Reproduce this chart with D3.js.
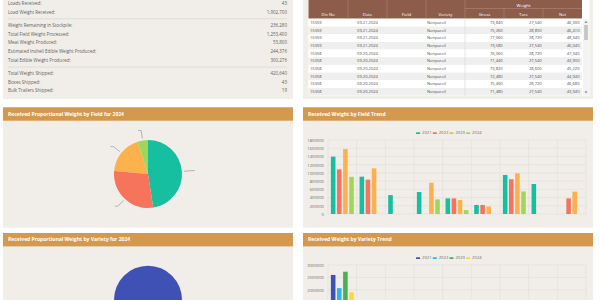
<!DOCTYPE html>
<html>
<head>
<meta charset="utf-8">
<script src="https://cdn.jsdelivr.net/npm/d3@7"></script>
<style>
  html, body { margin: 0; padding: 0; background: #fff; overflow: hidden; }
  svg { display: block; font-family: "Open Sans", "Noto Sans", sans-serif; }
</style>
</head>
<body>
<div id="dash"></div>
<script>
// summary panel
const summaryLabels = ["Loads Received:", "Load Weight Received:",
  "Weight Remaining in Stockpile:", "Total Field Weight Processed:", "Meat Weight Produced:",
  "Estimated Inshell Edible Weight Produced:", "Total Edible Weight Produced:",
  "Total Weight Shipped:", "Boxes Shipped:", "Bulk Trailers Shipped:"];
const summaryValues = [43, 1902700, 236280, 1253400, 53800, 244376, 300276, 420640, 43, 19];
const summaryGroups = [0, 0, 1, 1, 1, 1, 1, 2, 2, 2];

// loads table
const tableDiv = ["15059", "15059", "15059", "15059", "15058", "15058", "15058", "15058", "15058", "15058"];
const tableDate = ["09.21.2024", "09.21.2024", "09.21.2024", "09.21.2024", "09.20.2024",
  "09.20.2024", "09.20.2024", "09.20.2024", "09.20.2024", "09.20.2024"];
const tableVariety = ["Nonpareil", "Nonpareil", "Nonpareil", "Nonpareil", "Nonpareil",
  "Nonpareil", "Nonpareil", "Nonpareil", "Nonpareil", "Nonpareil"];
const tableGross = [73840, 75260, 77060, 73580, 76060, 71440, 73820, 72480, 75400, 71480];
const tableTare = [27540, 28850, 28720, 27540, 28720, 27540, 28600, 27540, 28720, 27540];
const tableNet = [46300, 46410, 48340, 46040, 47340, 43900, 45220, 44940, 46680, 43940];

// trend charts
const years = ["2021", "2022", "2023", "2024"];
const fields = ["Field 1", "Field 2", "Field 3", "Field 4", "Field 5", "Field 6", "Field 7", "Field 8", "Field 9"];
const field2021 = [1395000, 908000, 460000, 535000, 380000, 220000, 950000, 730000, 0];
const field2022 = [1087000, 835000, 0, 0, 380000, 220000, 845000, 0, 380000];
const field2023 = [1580000, 1110000, 0, 760000, 340000, 180000, 990000, 0, 545000];
const field2024 = [905000, 0, 0, 355000, 95000, 0, 548000, 0, 0];
const fieldTicks = [0, 200000, 400000, 600000, 800000, 1000000, 1200000, 1400000, 1600000, 1800000];

const varieties = ["Nonpareil", "Monterey", "Butte", "Padre", "Carmel", "Fritz", "Aldrich", "Wood Colony", "Independence"];
const variety2021 = [2600000, 0, 0, 0, 0, 0, 0, 0, 0];
const variety2022 = [2070000, 0, 0, 0, 0, 0, 0, 0, 0];
const variety2023 = [2730000, 0, 0, 0, 0, 0, 0, 0, 0];
const variety2024 = [1900000, 0, 0, 0, 0, 0, 0, 0, 0];
const varietyTicks = [0, 500000, 1000000, 1500000, 2000000, 2500000, 3000000];

const fieldColors = ["#17bfa1", "#f6735c", "#fbb24c", "#a2d65b"];
const varietyColors = ["#3f51b5", "#29b6f6", "#4caf50", "#fdd835"];

const panelFill = "#f1eee9";
const headerFill = "#d5994d";
const brown = "#8e5c4a";

const svg = d3.select("#dash").append("svg")
  .attr("width", 600).attr("height", 300)
  .attr("viewBox", "0 0 600 300");

const fmt = d3.format(",");

// ---------- summary panel ----------
svg.append("rect").attr("x", 3).attr("y", -5).attr("width", 290).attr("height", 104).attr("fill", panelFill);

const rowY = (i) => 4 + i * 8.6 + summaryGroups[i] * 4.8;
[18.8, 67].forEach(y => {
  svg.append("line").attr("x1", 8).attr("x2", 287).attr("y1", y).attr("y2", y)
    .attr("stroke", "#dcd8d2").attr("stroke-width", 0.8);
});
const sRows = svg.append("g").selectAll("g").data(summaryLabels).join("g");
sRows.append("text")
  .attr("x", 8).attr("y", (d, i) => rowY(i))
  .attr("dominant-baseline", "middle")
  .attr("font-size", 4.5).attr("fill", "#5f5f5f")
  .text(d => d);
sRows.append("text")
  .attr("x", 287).attr("y", (d, i) => rowY(i))
  .attr("dominant-baseline", "middle").attr("text-anchor", "end")
  .attr("font-size", 4.5).attr("fill", "#5f5f5f")
  .text((d, i) => fmt(summaryValues[i]));

// ---------- table panel ----------
svg.append("rect").attr("x", 303).attr("y", -5).attr("width", 290).attr("height", 104).attr("fill", panelFill);
svg.append("rect").attr("x", 308.5).attr("y", -2).attr("width", 281).attr("height", 98).attr("fill", "#fff");

const colEdges = [308.5, 348, 387, 426, 465, 504, 543, 582];
const colNames = ["Div No", "Date", "Field", "Variety", "Gross", "Tare", "Net"];
svg.append("rect").attr("x", 308.5).attr("y", -2).attr("width", 273.5).attr("height", 20.5).attr("fill", brown);
colEdges.slice(1, 5).forEach(x => {
  svg.append("line").attr("x1", x).attr("x2", x).attr("y1", -2).attr("y2", 18.5)
    .attr("stroke", "#b08878").attr("stroke-width", 0.6);
});
colEdges.slice(5, 7).forEach(x => {
  svg.append("line").attr("x1", x).attr("x2", x).attr("y1", 8.5).attr("y2", 18.5)
    .attr("stroke", "#b08878").attr("stroke-width", 0.6);
});
svg.append("line").attr("x1", 465).attr("x2", 582).attr("y1", 8.5).attr("y2", 8.5)
  .attr("stroke", "#b08878").attr("stroke-width", 0.6);
svg.append("text").attr("x", 523.5).attr("y", 5.5).attr("text-anchor", "middle")
  .attr("dominant-baseline", "middle").attr("font-size", 4.3).attr("fill", "#fff").text("Weight");
svg.append("g").selectAll("text").data(colNames).join("text")
  .attr("x", (d, i) => (colEdges[i] + colEdges[i + 1]) / 2)
  .attr("y", 14.6)
  .attr("text-anchor", "middle").attr("dominant-baseline", "middle")
  .attr("font-size", 4.3).attr("fill", "#fff")
  .text(d => d);

const rowH = 7.67;
const tRows = svg.append("g").selectAll("g").data(tableDiv).join("g")
  .attr("transform", (d, i) => `translate(0,${18.9 + i * rowH})`);
tRows.append("rect").attr("x", 308.5).attr("width", 273.5).attr("height", rowH)
  .attr("fill", (d, i) => i % 2 ? "#efefef" : "#fff");
const cellText = (sel, x, anchor, fn) => sel.append("text")
  .attr("x", x).attr("y", rowH / 2 + 0.2)
  .attr("text-anchor", anchor).attr("dominant-baseline", "middle")
  .attr("font-size", 4.1).attr("fill", "#505050")
  .text(fn);
cellText(tRows, 310, "start", d => d);
cellText(tRows, 367.5, "middle", (d, i) => tableDate[i]);
cellText(tRows, 427, "start", (d, i) => tableVariety[i]);
cellText(tRows, 502.7, "end", (d, i) => fmt(tableGross[i]));
cellText(tRows, 541.7, "end", (d, i) => fmt(tableTare[i]));
cellText(tRows, 579.5, "end", (d, i) => fmt(tableNet[i]));
svg.append("line").attr("x1", 465).attr("x2", 465).attr("y1", 18.9).attr("y2", 18.9 + 10 * rowH)
  .attr("stroke", "#d6d6d6").attr("stroke-width", 0.6);

// scrollbar
svg.append("rect").attr("x", 583).attr("y", 18.9).attr("width", 6).attr("height", 10 * rowH).attr("fill", "#f3f3f3");
svg.append("rect").attr("x", 584.2).attr("y", 25).attr("width", 3.6).attr("height", 15).attr("fill", "#c4c4c4");
svg.append("path").attr("d", "M584.5,22.8 L586,21 L587.5,22.8 Z").attr("fill", "#777");
svg.append("path").attr("d", "M584.5,91.5 L586,93.3 L587.5,91.5 Z").attr("fill", "#777");

// ---------- chart panels ----------
const panel = (x, y, h, title) => {
  svg.append("rect").attr("x", x).attr("y", y).attr("width", 290).attr("height", h).attr("fill", panelFill);
  svg.append("rect").attr("x", x).attr("y", y).attr("width", 290).attr("height", 13.4).attr("fill", headerFill);
  svg.append("text").attr("x", x + 5).attr("y", y + 7)
    .attr("dominant-baseline", "middle")
    .attr("font-size", 5).attr("font-weight", "bold").attr("fill", "#fff")
    .text(title);
};
panel(3, 107.3, 120.4, "Received Proportional Weight by Field for 2024");
panel(303, 107.3, 120.4, "Received Weight by Field Trend");
panel(3, 233, 80, "Received Proportional Weight by Variety for 2024");
panel(303, 233, 80, "Received Weight by Variety Trend");

// ---------- pie charts ----------
const drawPie = (cx, cy, r, names, values, colors, leaders) => {
  const data = names.map((n, i) => ({ name: n, value: values[i] })).filter(d => d.value > 0);
  const arcs = d3.pie().value(d => d.value)(data);
  const g = svg.append("g").attr("transform", `translate(${cx},${cy})`);
  // colours follow slice rank (largest first, clockwise from the top)
  g.selectAll("path").data(arcs).join("path")
    .attr("d", d3.arc().innerRadius(0).outerRadius(r))
    .attr("fill", d => colors[d.index % colors.length]);
  if (!leaders) return;
  const a1 = d3.arc().innerRadius(r + 2).outerRadius(r + 2);
  const a2 = d3.arc().innerRadius(r + 10).outerRadius(r + 10);
  g.selectAll("polyline").data(arcs).join("polyline")
    .attr("points", d => {
      const p1 = a1.centroid(d), p2 = a2.centroid(d);
      const mid = (d.startAngle + d.endAngle) / 2;
      const p3 = [p2[0] + (mid < Math.PI ? 3 : -3), p2[1]];
      return [p1, p2, p3].map(p => p.join(",")).join(" ");
    })
    .attr("fill", "none").attr("stroke", "#9a9a9a").attr("stroke-width", 0.7);
};
drawPie(148, 174, 34, fields, field2024, fieldColors, true);
drawPie(148, 299.7, 34, ["Nonpareil"], [variety2024[0]], varietyColors, false);

// ---------- grouped bar charts ----------
const drawTrend = (cats, series, colors, ticks, yTop, yBottom, legendY) => {
  const left = 328, right = 586;
  const x0 = d3.scaleBand().domain(cats).range([left, right]).paddingInner(0.2).paddingOuter(0.1);
  const x1 = d3.scaleBand().domain(years).range([0, x0.bandwidth()]).paddingInner(0.25);
  const y = d3.scaleLinear().domain([0, d3.max(ticks)]).range([yBottom, yTop]);
  const step = x0.step();

  const grid = svg.append("g");
  ticks.forEach(t => {
    grid.append("line").attr("x1", left).attr("x2", right).attr("y1", y(t)).attr("y2", y(t))
      .attr("stroke", "#dedad4").attr("stroke-width", 0.5);
  });
  d3.range(cats.length + 1).forEach(k => {
    const gx = left + k * step;
    grid.append("line").attr("x1", gx).attr("x2", gx).attr("y1", yTop).attr("y2", yBottom)
      .attr("stroke", "#dedad4").attr("stroke-width", 0.5);
  });

  // labels only for ticks that sit inside the window
  const shown = ticks.filter(t => y(t) < 296);
  const yAxis = d3.axisLeft(y).tickValues(shown).tickFormat(d3.format("d")).tickSize(0).tickPadding(4);
  const ag = svg.append("g").attr("transform", `translate(${left},0)`).call(yAxis);
  ag.select(".domain").remove();
  ag.selectAll("text").attr("font-size", 4.2).attr("fill", "#6a6a6a").attr("font-family", "Open Sans, sans-serif");

  const groups = svg.append("g").selectAll("g").data(cats).join("g")
    .attr("transform", d => `translate(${x0(d)},0)`);
  groups.selectAll("rect")
    .data((d, ci) => years.map((yr, si) => ({ yr, si, v: series[si][ci] })).filter(e => e.v > 0))
    .join("rect")
    .attr("x", e => x1(e.yr))
    .attr("width", x1.bandwidth())
    .attr("y", e => y(e.v))
    .attr("height", e => yBottom - y(e.v))
    .attr("fill", e => colors[e.si]);

  const lg = svg.append("g").selectAll("g").data(years).join("g")
    .attr("transform", (d, i) => `translate(${416 + i * 16.7},${legendY})`);
  lg.append("rect").attr("x", 0).attr("y", -0.9).attr("width", 4.2).attr("height", 1.8).attr("rx", 0.6)
    .attr("fill", (d, i) => colors[i]);
  lg.append("text").attr("x", 6).attr("y", 0).attr("dominant-baseline", "middle")
    .attr("font-size", 4.2).attr("fill", "#6a6a6a").text(d => d);
};
drawTrend(fields, [field2021, field2022, field2023, field2024], fieldColors, fieldTicks, 140, 214, 133.2);
drawTrend(varieties, [variety2021, variety2022, variety2023, variety2024], varietyColors, varietyTicks, 265, 339.6, 258.2);
</script>
</body>
</html>
